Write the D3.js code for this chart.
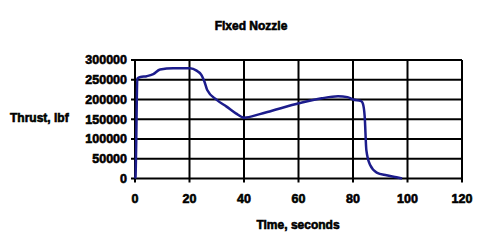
<!DOCTYPE html>
<html>
<head>
<meta charset="utf-8">
<script src="https://cdn.jsdelivr.net/npm/d3@7"></script>
<style>
  body { margin: 0; background: #fff; }
  text { font-family: "Liberation Sans", Arial, sans-serif; font-weight: bold; fill: #000; stroke: #000; stroke-width: 0.6px; }
</style>
</head>
<body>
<svg id="chart"></svg>
<script>
// thrust curve
const time = [0, 0.2, 0.4, 0.85, 2, 4.3, 6.7, 9.2, 14, 20.2, 22.6, 24.4, 25.5, 26.5, 30, 33.6, 37, 40, 45.8, 50, 60.5, 68.5, 74.5, 78, 80, 83, 83.6, 84.3, 84.9, 86.3, 88.7, 92.3, 96, 98];
const thrust = [0, 5000, 72000, 253000, 257000, 259000, 264000, 276000, 279000, 279000, 273000, 262000, 245000, 224000, 199000, 182000, 165000, 154000, 163000, 171000, 191000, 203000, 208000, 206000, 200000, 196000, 190000, 156000, 72000, 34000, 15000, 8000, 3000, 0];
const xTicks = [0, 20, 40, 60, 80, 100, 120];
const yTicks = [0, 50000, 100000, 150000, 200000, 250000, 300000];

const width = 501, height = 252;
const margin = { left: 135, right: 39, top: 60, bottom: 73.5 };
const innerW = width - margin.left - margin.right;
const innerH = height - margin.top - margin.bottom;

const svg = d3.select("#chart").attr("width", width).attr("height", height);

const x = d3.scaleLinear().domain([0, 120]).range([margin.left, margin.left + innerW]);
const y = d3.scaleLinear().domain([0, 300000]).range([margin.top + innerH, margin.top]);

// grid
svg.selectAll("line.hgrid")
  .data(yTicks)
  .enter()
  .append("line")
    .attr("x1", x(0) - 4)
    .attr("x2", x(120))
    .attr("y1", d => y(d))
    .attr("y2", d => y(d))
    .style("stroke", "#000")
    .style("stroke-width", 2);

svg.selectAll("line.vgrid")
  .data(xTicks)
  .enter()
  .append("line")
    .attr("x1", d => x(d))
    .attr("x2", d => x(d))
    .attr("y1", y(300000))
    .attr("y2", y(0) + 4)
    .style("stroke", "#000")
    .style("stroke-width", 2);

// tick labels
svg.selectAll("text.ylab")
  .data(yTicks)
  .enter()
  .append("text")
    .attr("x", x(0) - 8)
    .attr("y", d => y(d))
    .attr("dy", "0.35em")
    .attr("text-anchor", "end")
    .style("font-size", "12.5px")
    .text(d => d);

svg.selectAll("text.xlab")
  .data(xTicks)
  .enter()
  .append("text")
    .attr("x", d => x(d))
    .attr("y", 203)
    .attr("text-anchor", "middle")
    .style("font-size", "12.5px")
    .text(d => d);

// titles
svg.append("text")
  .attr("x", 251).attr("y", 30)
  .attr("text-anchor", "middle")
  .style("font-size", "12px")
  .text("Fixed Nozzle");

svg.append("text")
  .attr("x", 298).attr("y", 229)
  .attr("text-anchor", "middle")
  .style("font-size", "12px")
  .text("Time, seconds");

svg.append("text")
  .attr("x", 10).attr("y", 122)
  .style("font-size", "12px")
  .text("Thrust, lbf");

// curve
const line = d3.line()
  .x((d, i) => x(time[i]))
  .y(d => y(d))
  .curve(d3.curveMonotoneX);

svg.append("path")
  .datum(thrust)
  .attr("d", line)
  .style("fill", "none")
  .style("stroke", "#1c1c8c")
  .style("stroke-width", 2.5)
  .style("stroke-linejoin", "round");
</script>
</body>
</html>
